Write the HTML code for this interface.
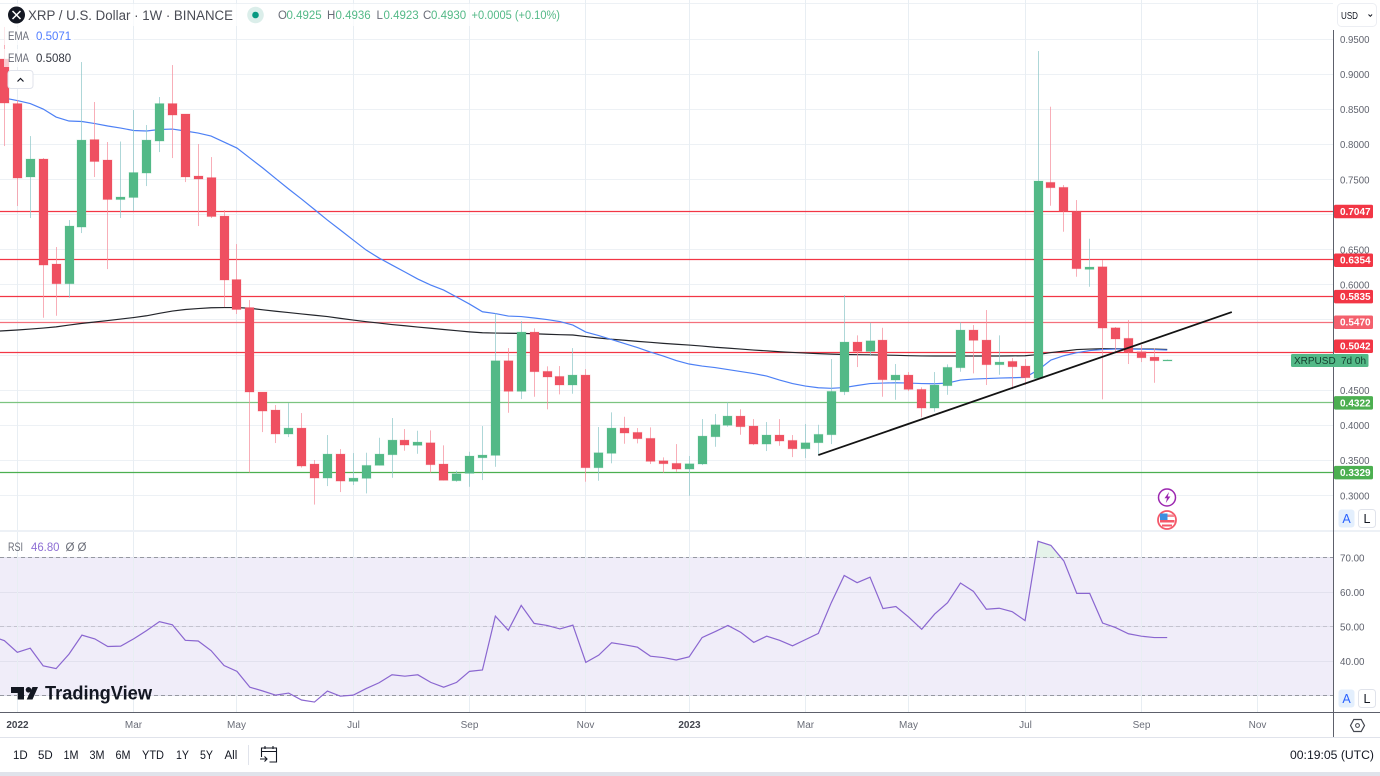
<!DOCTYPE html>
<html lang="en">
<head>
<meta charset="utf-8">
<title>XRP / U.S. Dollar 1W chart</title>
<style>
html,body{margin:0;padding:0;background:#fff;width:1380px;height:776px;overflow:hidden}
svg{display:block;font-family:"Liberation Sans",sans-serif}
text{white-space:pre}
</style>
</head>
<body>
<svg id="chart" xmlns="http://www.w3.org/2000/svg" width="1380" height="776" viewBox="0 0 1380 776">
  <defs>
    <clipPath id="priceClip"><rect x="0" y="0" width="1333" height="530"/></clipPath>
    <clipPath id="rsiClip"><rect x="0" y="533" width="1333" height="179"/></clipPath>
    <clipPath id="overClip"><rect x="0" y="533" width="1333" height="24.5"/></clipPath>
  </defs>
  <rect x="0" y="557.5" width="1333" height="138" fill="#f0edf9"/>
  <g id="grid"></g>
  <g id="pricePane" clip-path="url(#priceClip)"></g>
  <g id="rsiPane" clip-path="url(#rsiClip)"></g>

  <rect x="0" y="530" width="1380" height="2" fill="#edf1f6"/>

  <g>
    <path d="M11 687h13v12.500h-6.300v-6.500H11z" fill="#131722"/>
    <circle cx="28.500" cy="689.800" r="2.800" fill="#131722"/>
    <path d="M32.500 687H38l-5.500 12.500H26.700z" fill="#131722"/>
    <text x="45" y="699.500" font-size="19" font-weight="700" fill="#131722" textLength="107" lengthAdjust="spacingAndGlyphs">TradingView</text>
  </g>

  <g>
    <rect x="4" y="4" width="562" height="22" fill="#fff" fill-opacity=".7"/>
    <rect x="4" y="27" width="70" height="18" fill="#fff" fill-opacity=".7"/>
    <rect x="4" y="49" width="70" height="18" fill="#fff" fill-opacity=".7"/>
    <g>
      <circle cx="16.500" cy="15" r="8.500" fill="#131722"/>
      <path d="M12.500 11l8 8M20.500 11l-8 8" stroke="#fff" stroke-width="1.500" fill="none"/>
    </g>
    <text x="28" y="20" font-size="13.500" fill="#4a4c55" textLength="205" lengthAdjust="spacingAndGlyphs">XRP / U.S. Dollar · 1W · BINANCE</text>
    <circle cx="255.500" cy="15" r="8.300" fill="#dbeeea"/>
    <circle cx="255.500" cy="15" r="3.300" fill="#089981"/>
    <g font-size="11.500">
      <text x="278" y="19" fill="#6a6d78">O</text>
      <text x="286.500" y="19" fill="#53b987">0.4925</text>
      <text x="327" y="19" fill="#6a6d78">H</text>
      <text x="335.500" y="19" fill="#53b987">0.4936</text>
      <text x="376.500" y="19" fill="#6a6d78">L</text>
      <text x="383.500" y="19" fill="#53b987">0.4923</text>
      <text x="423" y="19" fill="#6a6d78">C</text>
      <text x="431" y="19" fill="#53b987">0.4930</text>
      <text x="471.500" y="19" fill="#53b987" textLength="88.500" lengthAdjust="spacingAndGlyphs">+0.0005 (+0.10%)</text>
    </g>
    <g font-size="11.500">
      <text x="8" y="40" fill="#6a6d78" textLength="21" lengthAdjust="spacingAndGlyphs">EMA</text>
      <text x="36" y="40" fill="#4f7cff">0.5071</text>
      <text x="8" y="62" fill="#6a6d78" textLength="21" lengthAdjust="spacingAndGlyphs">EMA</text>
      <text x="36" y="62" fill="#333640">0.5080</text>
      <text x="8" y="551" fill="#6a6d78" textLength="15" lengthAdjust="spacingAndGlyphs">RSI</text>
      <text x="31" y="551" fill="#8e6fd4" textLength="28.500" lengthAdjust="spacingAndGlyphs">46.80</text>
      <text x="65.500" y="551" fill="#6a6d78">Ø</text>
      <text x="77.500" y="551" fill="#6a6d78">Ø</text>
    </g>
    <rect x="8" y="70.500" width="25" height="18" rx="3" fill="#fff" stroke="#e0e3eb"/>
    <path d="M17.500 81.500l3-3 3 3" fill="none" stroke="#131722" stroke-width="1.200"/>
  </g>

  <g>
    <g>
      <circle cx="1167" cy="497.500" r="8.500" fill="#fff" stroke="#9c27b0" stroke-width="1.500"/>
      <path d="M1169 492l-4.500 6.200h2.500l-1.200 4.800 4.600-6.500h-2.600z" fill="#9c27b0"/>
    </g>
    <g>
      <circle cx="1167" cy="520" r="9" fill="#fff" stroke="#f4596a" stroke-width="1.800"/>
      <rect x="1167" y="514.500" width="7" height="2.500" fill="#f58a94"/>
      <rect x="1160" y="520" width="14.500" height="2.500" fill="#f4596a"/>
      <rect x="1162" y="524.500" width="10" height="2" fill="#f4596a"/>
      <rect x="1160" y="513.500" width="7.500" height="6.500" fill="#3d8fe0"/>
    </g>
  </g>

  <line x1="0" y1="712.500" x2="1380" y2="712.500" stroke="#5d606b"/>
  <line x1="1333.500" y1="30" x2="1333.500" y2="737" stroke="#5d606b"/>
  <g id="axes"></g>
  <g id="labels"></g>

  <g>
    <rect x="1335" y="507" width="45" height="22" fill="#fff"/>
    <rect x="1335" y="687" width="45" height="23" fill="#fff"/>
    <rect x="1338.500" y="509.500" width="16" height="18" rx="3" fill="#e3effd"/>
    <text x="1346.500" y="523" font-size="12.500" fill="#2962ff" text-anchor="middle">A</text>
    <rect x="1358.500" y="509.500" width="17" height="18" rx="3" fill="#fff" stroke="#e0e3eb"/>
    <text x="1367" y="523" font-size="12.500" fill="#131722" text-anchor="middle">L</text>
    <rect x="1338.500" y="689.500" width="16" height="18" rx="3" fill="#e3effd"/>
    <text x="1346.500" y="703" font-size="12.500" fill="#2962ff" text-anchor="middle">A</text>
    <rect x="1358.500" y="689.500" width="17" height="18" rx="3" fill="#fff" stroke="#e0e3eb"/>
    <text x="1367" y="703" font-size="12.500" fill="#131722" text-anchor="middle">L</text>
    <rect x="1337.500" y="3.500" width="39" height="23" rx="4" fill="#fff" stroke="#eceef3"/>
    <text x="1341" y="19" font-size="10.500" fill="#131722" textLength="17" lengthAdjust="spacingAndGlyphs">USD</text>
    <path d="M1368.500 14.500l1.800 1.800 1.800-1.800" fill="none" stroke="#131722"/>
    <path d="M1350.500 725.500l3.300-6h7.400l3.300 6-3.300 6h-7.400z" fill="#fff" stroke="#43464f" stroke-width="1.200"/>
    <circle cx="1357.500" cy="725.500" r="1.900" fill="none" stroke="#43464f"/>
  </g>

  <g>
    <line x1="0" y1="737.500" x2="1380" y2="737.500" stroke="#e0e3eb"/>
    <rect x="0" y="772" width="1380" height="4" fill="#e0e3eb"/>
    <g font-size="11.500" fill="#131722">
      <text x="13" y="759">1D</text>
      <text x="38" y="759">5D</text>
      <text x="63.500" y="759" textLength="15" lengthAdjust="spacingAndGlyphs">1M</text>
      <text x="89.500" y="759" textLength="15" lengthAdjust="spacingAndGlyphs">3M</text>
      <text x="115.500" y="759" textLength="15" lengthAdjust="spacingAndGlyphs">6M</text>
      <text x="142" y="759" textLength="22" lengthAdjust="spacingAndGlyphs">YTD</text>
      <text x="176" y="759" textLength="13" lengthAdjust="spacingAndGlyphs">1Y</text>
      <text x="200" y="759" textLength="13" lengthAdjust="spacingAndGlyphs">5Y</text>
      <text x="224.500" y="759">All</text>
    </g>
    <line x1="248.500" y1="745" x2="248.500" y2="765" stroke="#e0e3eb"/>
    <g fill="none" stroke="#131722" stroke-width="1.100">
      <path d="M261.500 757v-9h15v14h-7"/>
      <path d="M261.500 751.500h15M265 746v3M273 746v3"/>
      <path d="M260 759h7M264.500 756.500l2.500 2.500-2.500 2.500"/>
    </g>
    <text x="1290" y="759" font-size="11.500" fill="#131722" textLength="84" lengthAdjust="spacingAndGlyphs">00:19:05 (UTC)</text>
  </g>
</svg>
<script>
// Weekly candle data, first entry is the off-screen week just left of the view
const openPrices = [
  .9500,.9215,.8581,.7535,.7791,.6296,.6015,.6822,.8068,.7777,
  .7214,.7243,.7591,.8047,.8581,.8432,.7549,.7527,.6979,.6075,
  .5676,.4473,.4217,.3875,.3960,.3448,.3248,.3590,.3201,.3244,
  .3429,.3580,.3789,.3714,.3751,.3448,.3210,.3315,.3537,.3571,
  .4919,.4483,.5327,.4768,.4696,.4573,.4715,.3395,.3600,.3960,
  .3899,.3814,.3495,.3458,.3376,.3448,.3836,.3999,.4131,.3989,
  .3732,.3861,.3785,.3665,.3751,.3865,.4477,.5185,.5052,.5213,
  .4644,.4715,.4511,.4245,.4563,.4819,.5356,.5213,.4862,.4910,
  .4843,.4668,.7459,.7388,.7046,.6220,.6257,.5388,.5238,.5047,
  .4971,.4925];
const closePrices = [
  .9215,.8588,.7520,.7791,.6281,.6015,.6837,.8061,.7755,.7214,
  .7250,.7599,.8061,.8581,.8417,.7535,.7506,.6972,.6068,.5648,
  .4473,.4202,.3875,.3960,.3419,.3248,.3590,.3205,.3248,.3429,
  .3590,.3789,.3718,.3761,.3438,.3216,.3310,.3562,.3576,.4919,
  .4483,.5327,.4762,.4687,.4573,.4715,.3395,.3609,.3960,.3889,
  .3808,.3486,.3452,.3376,.3452,.3846,.4007,.4131,.3979,.3732,
  .3861,.3775,.3665,.3751,.3871,.4483,.5185,.5052,.5203,.4648,
  .4715,.4511,.4245,.4573,.4825,.5356,.5209,.4862,.4900,.4833,
  .4677,.7478,.7382,.7046,.6229,.6253,.5384,.5228,.5038,.4961,
  .4919,.4930];
const highPrices = [
  .9600,.9671,.8631,.8118,.7805,.6538,.6922,.9172,.8603,.8033,
  .8040,.8489,.8275,.8674,.9129,.8432,.8004,.7819,.7065,.6580,
  .5783,.4473,.4288,.4316,.4174,.3505,.3861,.3661,.3604,.3609,
  .3822,.4103,.3946,.3922,.3927,.3714,.3352,.3623,.3989,.5594,
  .5099,.5484,.5380,.4839,.4843,.5099,.4800,.3975,.4184,.4121,
  .3960,.3970,.3543,.3732,.3562,.4088,.4160,.4326,.4227,.4088,
  .4046,.4088,.3861,.4017,.4007,.4943,.5854,.5280,.5460,.5388,
  .4872,.4758,.4540,.4758,.4867,.5465,.5427,.5641,.5280,.4957,
  .4943,.9329,.8536,.7421,.7207,.6656,.6353,.5399,.5498,.5142,
  .5095,.4936];
const lowPrices = [
  .9000,.7976,.7122,.6951,.5531,.5559,.5816,.6737,.7535,.6224,
  .6951,.7050,.7406,.7890,.7805,.7463,.6837,.6951,.5683,.5584,
  .3327,.3903,.3747,.3832,.3398,.2871,.3134,.3049,.3149,.3030,
  .3429,.3252,.3637,.3594,.3324,.3216,.3196,.3124,.3220,.3409,
  .4178,.4373,.4406,.4227,.4440,.4449,.3196,.3210,.3458,.3737,
  .3742,.3448,.3324,.3338,.2996,.3433,.3694,.3979,.3865,.3718,
  .3633,.3708,.3547,.3533,.3566,.3732,.4430,.4829,.5000,.4406,
  .4363,.4487,.4113,.4193,.4434,.4762,.4739,.4573,.4719,.4511,
  .4573,.4658,.7126,.6756,.6115,.5972,.4369,.5024,.4872,.4900,
  .4605,.4923];
const emaFast = [
  .8688,.8659,.8624,.8581,.8503,.8389,.8332,.8325,.8296,.8261,
  .8232,.8197,.8190,.8211,.8218,.8190,.8161,.8118,.8033,.7947,
  .7805,.7663,.7513,.7364,.7221,.7072,.6922,.6780,.6637,.6495,
  .6381,.6281,.6182,.6082,.5997,.5925,.5826,.5726,.5616,.5591,
  .5555,.5548,.5527,.5505,.5477,.5427,.5327,.5277,.5220,.5164,
  .5107,.5043,.4986,.4921,.4872,.4843,.4822,.4793,.4765,.4736,
  .4701,.4644,.4594,.4558,.4534,.4526,.4537,.4566,.4594,.4601,
  .4605,.4601,.4594,.4591,.4601,.4644,.4658,.4665,.4672,.4677,
  .4682,.4786,.4929,.4990,.5033,.5064,.5078,.5085,.5085,.5082,
  .5078,.5071];
const emaSlow = [
  .5334,.5346,.5357,.5370,.5384,.5401,.5427,.5451,.5470,.5491,
  .5512,.5534,.5559,.5594,.5626,.5648,.5662,.5673,.5676,.5676,
  .5666,.5644,.5624,.5605,.5585,.5567,.5548,.5522,.5498,.5475,
  .5455,.5434,.5417,.5398,.5381,.5364,.5347,.5330,.5317,.5313,
  .5310,.5309,.5303,.5296,.5290,.5285,.5263,.5243,.5225,.5211,
  .5195,.5181,.5166,.5154,.5142,.5128,.5111,.5099,.5085,.5071,
  .5060,.5047,.5037,.5028,.5020,.5013,.5008,.5005,.5003,.5000,
  .4996,.4991,.4987,.4986,.4986,.4986,.4986,.4986,.4986,.4988,
  .4990,.5007,.5035,.5056,.5078,.5085,.5090,.5090,.5088,.5087,
  .5085,.5080];
const rsiValues = [
  47.2,45.9,42.5,43.7,38.6,37.8,42.0,47.5,46.4,44.2,
  44.3,46.4,48.8,51.4,50.5,46.0,45.8,43.0,38.7,37.0,
  32.4,31.3,30.1,30.7,28.7,28.1,31.3,29.8,30.1,32.0,
  33.7,36.0,35.6,36.0,33.8,32.4,33.8,37.0,37.4,53.0,
  48.9,56.1,50.9,50.3,49.3,50.4,39.6,41.7,45.3,44.7,
  44.0,41.4,41.0,40.3,41.2,46.8,48.5,50.3,48.3,45.4,
  47.2,46.0,44.4,46.2,48.0,56.9,64.8,62.7,64.3,55.2,
  55.8,52.7,49.2,53.6,56.9,62.6,60.2,55.0,55.3,54.3,
  51.7,74.7,73.5,69.0,59.6,59.6,51.0,49.7,47.9,47.2,
  46.8,46.8];
const resistanceLevels = [.7047,.6354,.5835,.5470,.5042];
const supportLevels = [.4322,.3329];
const trendStartIndex = [64];
const trendEndIndex = [96];
const trendStartPrice = [.3576];
const trendEndPrice = [.5612];
const priceTicks = [1.0,.95,.90,.85,.80,.75,.70,.65,.60,.55,.50,.45,.40,.35,.30];
const rsiTicks = [70,60,50,40,30];
const timeTickIndex = [2,11,19,28,37,46,54,63,71,80,89,98];
const timeTickLabels = ['2022','Mar','May','Jul','Sep','Nov','2023','Mar','May','Jul','Sep','Nov'];
const lastPriceLabel = ['XRPUSD','7d 0h'];

const NS = 'http://www.w3.org/2000/svg';
const xAt = i => -8.52 + 12.92 * i;
const yPrice = p => 495.5 - (p - 0.3) * 702.3;
const yRsi = v => 695.5 - (v - 30) * 3.45;
function mk(tag, parent, attrs, txt) {
  const el = document.createElementNS(NS, tag);
  for (const k in attrs) el.setAttribute(k, attrs[k]);
  if (txt !== undefined) el.textContent = txt;
  parent.appendChild(el);
  return el;
}
const grid = document.getElementById('grid');
const pricePane = document.getElementById('pricePane');
const rsiPane = document.getElementById('rsiPane');
const axes = document.getElementById('axes');
const labels = document.getElementById('labels');

// horizontal grid + price tick labels
const allLevels = resistanceLevels.concat(supportLevels);
priceTicks.forEach(p => {
  const y = Math.round(yPrice(p) - .5) + .5;
  const gl = mk('line', grid, {x1: 0, x2: 1333, y1: y, y2: y, stroke: '#edf1f5'});
  
  
  const hidden = p >= 1 || allLevels.some(l => Math.abs(yPrice(l) - yPrice(p)) < 8);
  if (!hidden) {
    const t = mk('text', axes, {x: 1340, y: yPrice(p) + 3.8, 'font-size': 10.5, fill: '#5f626d', textLength: 29.5, lengthAdjust: 'spacingAndGlyphs'}, p.toFixed(4));
    
    
  }
});
// RSI grid + tick labels
rsiTicks.forEach(v => {
  const y = Math.round(yRsi(v) - .5) + .5;
  const gl = mk('line', grid, {x1: 0, x2: 1333, y1: y, y2: y, stroke: '#e2e1ee'});
  
  
  if (v !== 60 && v !== 40) {
    const d = mk('line', grid, {x1: 0, x2: 1333, y1: y, y2: y, stroke: v === 50 ? '#c4c3cf' : '#9598a1', 'stroke-dasharray': '4 3'});
    
    
  }
  const t = mk('text', axes, {x: 1340, y: yRsi(v) + 3.8, 'font-size': 10.5, fill: '#5f626d', textLength: 24.5, lengthAdjust: 'spacingAndGlyphs'}, v.toFixed(2));
  
  
});
// vertical grid + time labels
timeTickIndex.forEach((idx, n) => {
  const x = Math.round(xAt(idx) - .5) + .5;
  const gl = mk('line', grid, {x1: x, x2: x, y1: 0, y2: 712, stroke: '#e8eef3'});
  
  
  const isYear = /^\d+$/.test(timeTickLabels[n]);
  const t = mk('text', axes, {x: x, y: 728, 'font-size': 10, 'text-anchor': 'middle', fill: isYear ? '#43464f' : '#6a6d78', 'font-weight': isYear ? 700 : 400}, timeTickLabels[n]);
  
  
});

// horizontal level lines
resistanceLevels.forEach(l => {
  const y = Math.round(yPrice(l) - .5) + .5;
  const soft = l === .5470;
  const ln = mk('line', pricePane, {x1: 0, x2: 1333, y1: y, y2: y, stroke: soft ? '#f4707c' : '#f23645', 'stroke-width': 1.2});
  
  
});
supportLevels.forEach((l, n) => {
  const y = Math.round(yPrice(l) - .5) + .5;
  const ln = mk('line', pricePane, {x1: 0, x2: 1333, y1: y, y2: y, stroke: n === 0 ? '#7cc480' : '#4caf50', 'stroke-width': 1.2});
  
  
});

// EMA lines
const pts = (arr, yf) => arr.map((v, i) => xAt(i).toFixed(2) + ',' + yf(v).toFixed(2)).join(' ');
const slowLine = mk('polyline', pricePane, {points: pts(emaSlow, yPrice), fill: 'none', stroke: '#23252b', 'stroke-width': 1.2});


const fastLine = mk('polyline', pricePane, {points: pts(emaFast, yPrice), fill: 'none', stroke: '#4d80f5', 'stroke-width': 1.2});



// candles
openPrices.forEach((o, i) => {
  const c = closePrices[i], h = highPrices[i], l = lowPrices[i];
  const up = c >= o;
  const col = up ? '#53b987' : '#ef5061';
  const cx = xAt(i);
  const wick = mk('rect', pricePane, {x: Math.round(cx - .5), y: yPrice(h), width: 1, height: Math.max(0, yPrice(l) - yPrice(h)), fill: up ? '#8fc7c9' : '#f58f9c', 'fill-opacity': .72});
  
  
  const top = yPrice(Math.max(o, c)), bot = yPrice(Math.min(o, c));
  const body = mk('rect', pricePane, {x: Math.round(cx - 4.5), y: top, width: 9, height: Math.max(1, bot - top), fill: col, stroke: col, 'stroke-opacity': .22, 'stroke-width': 1});
  
  
});

// trend line
const trend = mk('line', pricePane, {
  x1: xAt(trendStartIndex[0]), y1: yPrice(trendStartPrice[0]),
  x2: xAt(trendEndIndex[0]), y2: yPrice(trendEndPrice[0]),
  stroke: '#131313', 'stroke-width': 1.8
});



// RSI
const rsiArea = mk('polygon', rsiPane, {
  points: xAt(0) + ',' + yRsi(70) + ' ' + pts(rsiValues, yRsi) + ' ' + xAt(rsiValues.length - 1) + ',' + yRsi(70),
  fill: '#cfe9d8', 'fill-opacity': .55, 'clip-path': 'url(#overClip)'
});


const rsiLine = mk('polyline', rsiPane, {points: pts(rsiValues, yRsi), fill: 'none', stroke: '#8a66d0', 'stroke-width': 1.2});



// price labels
const lastY = yPrice(closePrices[closePrices.length - 1]);
const lastBg = mk('rect', labels, {x: 1291, y: lastY - 6, width: 77.5, height: 13, rx: 1.5, fill: '#53b987'});


const lastSym = mk('text', labels, {x: 1294, y: lastY + 4, 'font-size': 10, fill: '#14402f'}, lastPriceLabel[0]);


const lastCd = mk('text', labels, {x: 1341, y: lastY + 4, 'font-size': 10, fill: '#14402f'}, lastPriceLabel[1]);


function levelLabel(l, col) {
  let y = yPrice(l);
  if (Math.abs(y - lastY) < 13) y = lastY - 14;
  const bg = mk('rect', labels, {x: 1334, y: y - 6.5, width: 39, height: 13.5, rx: 1.5, fill: col});
  
  
  const t = mk('text', labels, {x: 1340, y: y + 3.7, 'font-size': 10, 'font-weight': 700, fill: '#fff'}, l.toFixed(4));
  
  
}
resistanceLevels.forEach(l => levelLabel(l, l === .5470 ? '#f4606d' : '#f23645'));
supportLevels.forEach(l => levelLabel(l, '#4caf50'));
</script>
</body>
</html>
